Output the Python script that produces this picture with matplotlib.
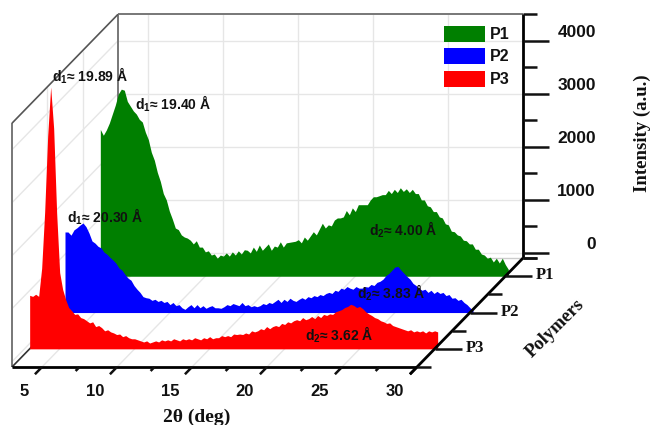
import matplotlib
matplotlib.use('Agg')
import matplotlib.pyplot as plt
import numpy as np

plt.rcParams['font.family'] = ['Liberation Sans', 'DejaVu Sans']
plt.rcParams['mathtext.fontset'] = 'custom'
plt.rcParams['mathtext.rm'] = 'Liberation Sans:bold'
plt.rcParams['mathtext.bf'] = 'Liberation Sans:bold'
plt.rcParams['mathtext.it'] = 'Liberation Sans:bold'

# passo de 0.2 graus em 2 theta
two_theta = [3.0, 3.2, 3.4, 3.6, 3.8, 4.0, 4.2, 4.4, 4.6, 4.8, 5.0, 5.2, 5.4, 5.6, 5.8, 6.0, 6.2, 6.4, 6.6, 6.8,
             7.0, 7.2, 7.4, 7.6, 7.8, 8.0, 8.2, 8.4, 8.6, 8.8, 9.0, 9.2, 9.4, 9.6, 9.8, 10.0, 10.2, 10.4, 10.6, 10.8,
             11.0, 11.2, 11.4, 11.6, 11.8, 12.0, 12.2, 12.4, 12.6, 12.8, 13.0, 13.2, 13.4, 13.6, 13.8, 14.0, 14.2, 14.4, 14.6, 14.8,
             15.0, 15.2, 15.4, 15.6, 15.8, 16.0, 16.2, 16.4, 16.6, 16.8, 17.0, 17.2, 17.4, 17.6, 17.8, 18.0, 18.2, 18.4, 18.6, 18.8,
             19.0, 19.2, 19.4, 19.6, 19.8, 20.0, 20.2, 20.4, 20.6, 20.8, 21.0, 21.2, 21.4, 21.6, 21.8, 22.0, 22.2, 22.4, 22.6, 22.8,
             23.0, 23.2, 23.4, 23.6, 23.8, 24.0, 24.2, 24.4, 24.6, 24.8, 25.0, 25.2, 25.4, 25.6, 25.8, 26.0, 26.2, 26.4, 26.6, 26.8,
             27.0, 27.2, 27.4, 27.6, 27.8, 28.0, 28.2, 28.4, 28.6, 28.8, 29.0, 29.2, 29.4, 29.6, 29.8, 30.0, 30.2]

p1 = [2670, 2560, 2660, 2790, 2960, 3130, 3340, 3430, 3410, 3200, 3110, 3020, 2960, 2860, 2810, 2620, 2480, 2240, 2090, 1860,
      1690, 1460, 1340, 1130, 980, 810, 780, 680, 640, 620, 580, 510, 570, 450, 450, 360, 380, 300, 320, 240,
      300, 280, 340, 280, 360, 300, 380, 320, 400, 390, 340, 450, 370, 490, 390, 450, 510, 390, 470, 450,
      550, 450, 530, 540, 550, 560, 590, 530, 640, 580, 660, 740, 680, 790, 900, 810, 870, 850, 960, 1000,
      1000, 1020, 1140, 1060, 1190, 1120, 1250, 1250, 1250, 1250, 1340, 1400, 1400, 1420, 1440, 1440, 1520, 1460, 1540, 1480,
      1570, 1500, 1550, 1480, 1540, 1460, 1460, 1340, 1340, 1230, 1210, 1120, 1120, 1020, 1000, 890, 870, 750, 740, 680,
      660, 580, 570, 510, 510, 410, 410, 320, 300, 240, 260, 170, 240, 150, 240, 120, 30]

p2 = [1420, 1420, 1360, 1460, 1500, 1550, 1590, 1520, 1400, 1250, 1210, 1150, 1120, 1040, 1000, 940, 890, 830, 740, 700,
      620, 550, 510, 410, 340, 280, 200, 180, 170, 130, 150, 110, 130, 90, 110, 50, 90, 30, 50, -10,
      -40, 10, 50, -10, 50, -10, 30, -20, 10, 30, -10, -10, -20, 10, 50, 30, 70, 50, 30, 90,
      30, 50, 10, 30, 10, 30, 70, 50, 90, 70, 110, 150, 90, 150, 110, 170, 130, 110, 150, 180,
      150, 200, 180, 220, 200, 240, 220, 260, 280, 260, 320, 300, 360, 340, 390, 360, 340, 390, 360, 360,
      390, 380, 430, 410, 470, 490, 530, 600, 640, 700, 760, 770, 700, 640, 580, 530, 450, 410, 360, 320,
      340, 280, 320, 260, 300, 260, 280, 220, 240, 170, 180, 130, 150, 90, 50, -10, -60]

p3 = [910, 890, 930, 890, 1420, 2480, 3910, 4840, 4060, 2460, 1340, 1020, 830, 680, 620, 550, 560, 490, 470, 430,
      390, 410, 320, 340, 300, 240, 260, 220, 200, 170, 180, 130, 150, 110, 90, 90, 70, 50, 30, 50,
      10, 30, 50, 30, 70, 50, 70, 50, 90, 70, 50, 90, 70, 90, 70, 110, 90, 70, 110, 90,
      130, 90, 110, 110, 150, 130, 150, 130, 180, 170, 180, 170, 200, 180, 240, 220, 240, 280, 260, 320,
      280, 320, 340, 320, 380, 360, 410, 390, 430, 450, 430, 490, 450, 470, 510, 470, 530, 490, 550, 530,
      560, 550, 600, 620, 640, 680, 700, 740, 720, 680, 700, 660, 600, 560, 530, 490, 470, 430, 410, 380,
      390, 340, 320, 300, 280, 260, 240, 260, 220, 240, 220, 240, 200, 240, 220, 240, 220]

series_names = ['P1', 'P2', 'P3']
series_depth = [3, 2, 1]
series_colors = ['#007f00', '#0000ff', '#ff0000']

x_ticks = [5, 10, 15, 20, 25, 30]
x_minor = [7.5, 12.5, 17.5, 22.5, 27.5]
y_ticks = [0, 1000, 2000, 3000, 4000]
y_minor = [-100, 500, 1500, 2500, 3500, 4500]
z_minor = [0.5, 1.5, 2.5, 3.5]

# limites dos eixos
X_MIN, X_MAX = 3, 30
Y_MIN, Y_MAX = -100, 4500
Z_MIN, Z_MAX = 0.5, 3.5

DARK = '#111111'
WALL = '#777777'
GRID = '#e6e6e6'


def proj(x, y, z):
    """Projeção oblíqua (2theta, intensidade, polímero) -> pixels da figura."""
    x = np.asarray(x, dtype=float)
    y = np.asarray(y, dtype=float)
    px = 42 + (x - 5) * 15 + (z - Z_MIN) * 35.33
    py = 367 - (z - Z_MIN) * 36.3 - (y - Y_MIN) * 0.053
    return px, py


def linha(ax, p0, p1_, **kw):
    ax.plot([p0[0], p1_[0]], [p0[1], p1_[1]], solid_capstyle='butt', **kw)


fig = plt.figure(figsize=(6.54, 4.25), dpi=100)
ax = fig.add_axes([0, 0, 1, 1])
ax.set_xlim(0, 654)
ax.set_ylim(425, 0)
ax.axis('off')

# grade das paredes e do piso
for t in x_ticks:
    linha(ax, proj(t, Y_MIN, Z_MAX), proj(t, Y_MAX, Z_MAX), color=GRID, lw=1, zorder=1)
    linha(ax, proj(t, Y_MIN, Z_MIN), proj(t, Y_MIN, Z_MAX), color=GRID, lw=1, zorder=1)
for v in y_ticks:
    linha(ax, proj(X_MIN, v, Z_MAX), proj(X_MAX, v, Z_MAX), color=GRID, lw=1, zorder=1)
    linha(ax, proj(X_MIN, v, Z_MIN), proj(X_MIN, v, Z_MAX), color=GRID, lw=1, zorder=1)
for z in [1.5, 2.5]:
    linha(ax, proj(X_MIN, Y_MIN, z), proj(X_MIN, Y_MAX, z), color=GRID, lw=1, zorder=1)

# contorno cinza das paredes
linha(ax, proj(X_MIN, Y_MAX, Z_MAX), proj(X_MAX, Y_MAX, Z_MAX), color=WALL, lw=1.4, zorder=2)
linha(ax, proj(X_MIN, Y_MIN, Z_MAX), proj(X_MIN, Y_MAX, Z_MAX), color=WALL, lw=1.4, zorder=2)
linha(ax, proj(X_MIN, Y_MIN, Z_MIN), proj(X_MIN, Y_MAX, Z_MIN), color=WALL, lw=1.4, zorder=2)
linha(ax, proj(X_MIN, Y_MAX, Z_MIN), proj(X_MIN, Y_MAX, Z_MAX), color='#555555', lw=1.2, zorder=2)
linha(ax, proj(X_MIN, Y_MIN, Z_MIN), proj(X_MIN, Y_MIN, Z_MAX), color='#333333', lw=1.2, zorder=2)
linha(ax, proj(X_MIN, Y_MIN, Z_MAX), proj(X_MAX, Y_MIN, Z_MAX), color='#cccccc', lw=1, zorder=2)

# difratogramas, do fundo para a frente
for i, vals in enumerate([p1, p2, p3]):
    px, py = proj(two_theta, vals, series_depth[i])
    _, base = proj(two_theta, np.full(len(two_theta), Y_MIN), series_depth[i])
    ax.fill_between(px, py, base, color=series_colors[i], lw=0, zorder=3 + i)

# eixo x
linha(ax, proj(X_MIN, Y_MIN, Z_MIN), proj(X_MAX, Y_MIN, Z_MIN), color='black', lw=2, zorder=8)
for t in x_ticks:
    linha(ax, proj(t, Y_MIN, Z_MIN), proj(t, Y_MIN, Z_MIN - 0.2), color=DARK, lw=1.8, zorder=8)
    px, py = proj(t, Y_MIN, Z_MIN)
    ax.text(px - 13, 392, str(t), ha='right', va='center', fontsize=12, fontweight='bold', color=DARK)
for t in x_minor:
    linha(ax, proj(t, Y_MIN, Z_MIN), proj(t, Y_MIN, Z_MIN - 0.11), color=DARK, lw=1.8, zorder=8)

# eixo de intensidade
linha(ax, proj(X_MAX, Y_MIN, Z_MAX), proj(X_MAX, Y_MAX, Z_MAX), color='black', lw=2, zorder=8)
for v in y_ticks:
    px, py = proj(X_MAX, v, Z_MAX)
    ax.plot([px, px + 26], [py, py], color=DARK, lw=1.8, solid_capstyle='butt', zorder=8)
    ax.text(px + 73, py - 8, str(v), ha='right', va='center', fontsize=12.5, fontweight='bold', color=DARK)
for v in y_minor:
    px, py = proj(X_MAX, v, Z_MAX)
    ax.plot([px, px + 14], [py, py], color=DARK, lw=1.8, solid_capstyle='butt', zorder=8)

# eixo dos polímeros
linha(ax, proj(X_MAX, Y_MIN, Z_MIN - 0.2), proj(X_MAX, Y_MIN, Z_MAX), color='black', lw=2, zorder=8)
for nome, z in zip(series_names, series_depth):
    px, py = proj(X_MAX, Y_MIN, z)
    ax.plot([px, px + 27], [py, py], color=DARK, lw=1.8, solid_capstyle='butt', zorder=8)
    ax.text(px + 40, py - 1, nome, ha='center', va='center', fontsize=12, fontweight='bold',
            family='Liberation Serif', color=DARK)
for z in z_minor:
    px, py = proj(X_MAX, Y_MIN, z)
    ax.plot([px, px + 14], [py, py], color=DARK, lw=1.8, solid_capstyle='butt', zorder=8)

# legenda
leg_y = [26, 48, 71]
for nome, cor, y0 in zip(series_names, series_colors, leg_y):
    ax.fill_between([444, 485], [y0, y0], [y0 + 16, y0 + 16], color=cor, lw=0, zorder=6)
    ax.text(490, y0 + 8, nome, ha='left', va='center', fontsize=11.5, fontweight='bold', color=DARK, zorder=9)

# anotações dos picos
notas = [(52, 76, r'd$_1$≈ 19.89 Å'), (135, 104, r'd$_1$≈ 19.40 Å'), (67, 217, r'd$_1$≈ 20.30 Å'),
         (369, 230, r'd$_2$≈ 4.00 Å'), (357, 293, r'd$_2$≈ 3.83 Å'), (305, 335, r'd$_2$≈ 3.62 Å')]
for xt, yt, txt in notas:
    ax.text(xt, yt, txt, ha='left', va='center', fontsize=10, fontweight='bold', color=DARK, zorder=10)

# títulos dos eixos
ax.text(197, 417, '2θ (deg)', ha='center', va='center', fontsize=14, fontweight='bold',
        family='Liberation Serif', color=DARK)
ax.text(642, 133, 'Intensity (a.u.)', ha='center', va='center', rotation=90, fontsize=13.5,
        fontweight='bold', family='Liberation Serif', color=DARK)
ax.text(555, 328, 'Polymers', ha='center', va='center', rotation=45, rotation_mode='anchor', fontsize=13.5,
        fontweight='bold', family='Liberation Serif', color=DARK)

fig.savefig('out.png', dpi=100)
